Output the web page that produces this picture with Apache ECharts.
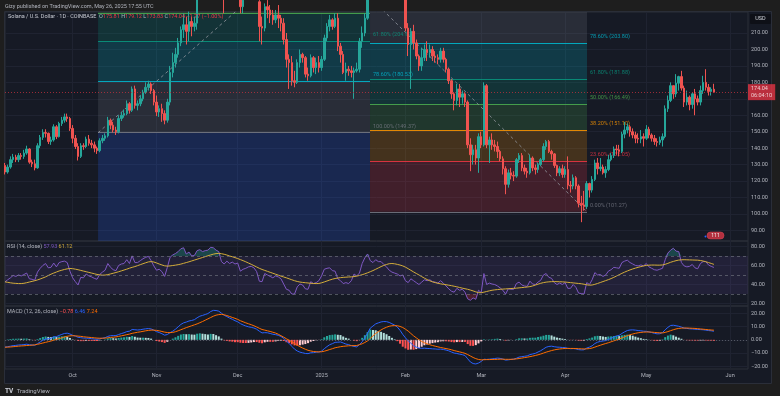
<!DOCTYPE html>
<html><head><meta charset="utf-8">
<script src="https://cdn.jsdelivr.net/npm/echarts@6/dist/echarts.min.js"></script>
<style>html,body{margin:0;padding:0;background:#1e1e1e;}#c{width:780px;height:396px;}</style>
</head><body><div id="c"></div>
<script>
// ---------------- DATA ----------------
const startDate = '2024-09-06';   // day index 0
const firstOpen = 129.5;
// daily closes, Sep 6 2024 -> May 26 2025
const close = [
 125.5,128.5,133,134.5,133,135.5,135,137,139.5,131.5,130.5,128,141.5,146.5,149.5,149,144,145,153,147,155,157,159,158,152,
 146,141,135,141.5,141,145.5,143,142,140,138.5,144.5,146,147.5,157,154,151,150,158,160,161,167,163,176,166,167,170,174,177,179,175,168,
 162,164,161,157,168,186,192,197,204,212,215,211,217,214,216,232,236,234,238,242,256,256,253,252,238,234,240,237,240,237,
 240,226,230,232,236,238,236,229,214,213,226,224,221,218,221,219,216,206,194,192,181,180,192,197,195,185,184,195,189,192,189,
 194,207,214,218,214,219,202,197,186,188,187,186,187,188,205,210,219,240,256,252,257,252,254,254,252,244,236,237,238,240,231,
 213,203,211,204,196,190,195,200,198,200,196,195,194,199,194,188,181,173,169,176,171,173,168,142,136,139,134,147,
 142,178,142,145,142,141,138,133.5,127.5,118,125,123.5,123,133,135.5,128,126,125,134,128,127,130,133,141,144,138,136.5,129.5,125,127.5,124,
 127,117.5,117,122,117,106.5,105.5,104.5,118.5,114.5,121,131,127.5,128.5,125,127,133,135.5,139.5,139,138,148.5,151,153,150,148,146,145.5,147,146,
 151.5,148,146,144,143.5,145,147,164,169,178,173,179.5,183.5,176.5,168,171,166.5,173,170,168,175,180,177,174.5,175.81,174.04
];
const high = [
 131,130,135,136.5,136,137,137,139,141.5,140,133,133,143,148,151.5,151.5,149.5,147,154.5,154,156,159,161,161,159,
 154,148,143,143,143,147,148,145,144,141,146,148,149,159,158,156,153,160,162,163.5,169,168,177.5,178,169,172,175.5,180,181,180,176,
 172,166,167,163,170,190,198,201,207,214,222,220,223,220,220,235,240,242,241,246,262,264,260,260,256,242,244,243,244,243,
 244,242,234,238,243,242,240,238,230,220,228,230,227,224,224,227,221,219,210,197,196,187,194,200,198,196,189,197,196,195,196,
 196,209,216,221,219,222,222,204,199,192,190,190,189,192,207,214,222,248,295,270,262,261,258,260,259,254,246,242,242,244,243,
 233,216,213,215,206,197,201,203,205,203,202,199,197,201,201,195,189,182,174,179,179,175,174,169,146,142,142,149,
 150,180,179,147,149,145,144,139,135,129,127,128,126,134,137,137,130,128,136,135,130,131,134,143,145,145,139,137,130,129,130,
 129,135,120,124,123,118,111,114,120,119,123,133,134,134,130,129,136,137,141,142,142,150,156,155,154,152,150,149,151,149,
 154,153,149,148,146,147,149,166,172,180,178,185,184,187,178,175,172,174,176,172,178,184,188,179,177,179.12
];
const low = [
 124,124.5,127.5,131,131.5,131.5,133,133.5,136,130.5,128.5,126.5,127.5,140,145,146.5,142.5,142,144,145.5,146.5,153.5,155.5,156,150.5,
 143,139.5,132.5,134,139,140,141.5,140,137.5,136.5,137.5,143,144.5,146.5,151.5,149.5,148,149,156.5,158.5,160,161,162,164,163,165.5,168.5,173,175,173,166,
 159.5,159,156,154.5,155.5,166,183,189,195,202,207,203,205,208,211,212,229,228,230,234,238,248,248,247,236,222,230,233,234,233,
 234,222,222,228,229,232,232,226,205,203,211,219,216,215,216,213,211,203,189,176,178,177,179,189,192,183,181,183,186,185,186,
 187,193,205,211,212,213,199,192,185,181,184,183,170,186,186,201,208,218,233,235,243,248,245,248,249,241,224,232,233,234,229,
 211,196,176,200,194,187,187,193,193,195,193,192,191,192,192,186,179,170,163,166,165,167,165,140,126,130,130,125,
 140,141,140,131,139,138,134,132,124,112,116,121,120,122,131,126,124,122,124,126,124,125,129,132,139,137,133,128,123,123,122,
 122,115,113,115,115,104,95,102,103,110,113,120,124,126,124,122,126,132,134,136,135,137,146,149,147,146,143,143,143,141,
 145,146,144,142,141,142,141,146,162,168,170,171,175,175,165,166,163,164,160,166,166,173,175,172,172,173.83
];
const rsi = [
 42.8,45,47,49.5,48.5,50,49,50.5,52,46,45.5,44.5,53,57,60,62,57.5,58,62.5,58.5,63,64,64.5,63,54,
 47,43,39.5,47.5,47,51,49,48,46.5,45.5,50.5,53,55,62,58,55.5,54.5,60,61.5,62,66,62,70,63,63,65,67,68.5,69.5,65,59.5,
 55,56,53.5,48.5,58,68.5,71,72.5,74.5,77.5,78.5,72,74,70,70.5,75.5,76.5,74.5,75.5,76,79,78.5,76,74.5,64,61.5,64.5,62,63.5,61.5,
 62.5,54,56,57,58.5,59,57.5,53.5,43.5,43,51.5,50,48.5,47,49,48,46,40.5,35,34,30,30,37.5,40.5,39.5,35.5,35,43,41,42,44,
 49,56,57,57.5,54.5,54,46,44,41,42,41,44,51,49,52,62,68,72,65,63,66,64,64,61,58.5,55,53,52,51,49,50,
 44,42,46,44,42,40,42.5,45,44,45,43,42.5,41.5,44,41.5,38.5,35.5,33,32,36,34,35,32,25,23.5,26,24.5,34,
 31.5,51.5,40,41.5,40.5,40,38.5,36.5,34,30,35.5,35,35,41,42.5,39.5,38.5,38,43.5,40.5,40,42.5,44.5,50,51.5,47.5,46.5,42,40,41.5,40,
 42,36,36,40,37,31,30.5,30,42,40,45,52.5,50,50.5,48.5,50,54,55.5,58,57.5,57,63,64.5,65.5,63,61.5,60,59.5,60.5,59.5,
 62,58.5,57,55.5,55,56,57,66,73,76,78,75,74.5,63,59.5,58.5,59,61,57.5,56.5,62,64,64,60.5,59,57.93
];
const rsiMa = [
 42.8,42.3,41.8,41.4,41.2,41,41,41.3,41.9,42.6,43.3,44,44.8,45.8,46.9,48,49.5,50.8,52,53.1,54.2,55,55.8,56.4,56.8,
 56.6,56.1,55.5,54.8,54.1,53.4,52.7,52,51.3,50.6,50.1,49.8,49.9,50.4,51.1,51.8,52.6,53.4,54.3,55.2,56.1,57.1,58,58.8,59.8,60.8,61.8,62.8,63.7,64,63.6,
 62.6,61.5,60.5,59.6,59.3,59.5,59.9,60.3,60.8,61.4,62.2,63,63.8,64.7,65.6,66.5,67.4,68.3,69.2,70.1,71,71.8,72.4,72.6,72.3,71.7,70.9,69.9,69.1,68.2,
 67.2,66.1,65,63.8,62.5,61.2,59.8,58.4,57,55.8,54.8,53.8,52.8,51.8,50.8,49.8,48.8,47.9,47,46,45,44,43.2,42.6,42.2,41.9,41.6,41.3,41.1,41,41.1,
 41.8,42.7,43.7,44.7,45.6,46.3,46.8,47.2,47.5,47.7,47.9,48,48.3,48.8,49.5,50.3,51.2,52.3,53.4,54.6,56,57.4,58.8,60,61,61.8,62,61.7,61.1,60.4,59.5,
 58.2,56.6,54.9,53.2,51.6,50,48.3,46.7,45.2,43.9,42.8,42,41.3,40.7,40.2,39.8,39.3,38.8,38.2,37.6,36.9,36.2,35.6,35,34.2,33.3,32.3,31.5,
 31.4,32,32.7,33.4,34,34.4,34.7,35,35.2,35.4,35.6,35.8,36,36.2,36.5,36.8,37.1,37.4,37.8,38.5,39.4,40.4,41.3,42,42.5,42.8,43,43.1,43,42.9,42.8,
 42.6,42.3,42,41.7,41.4,41.1,40.8,40.3,39.7,39.3,39.5,40.2,41.1,42.1,43.1,44.1,45.1,46.2,47.5,48.9,50.3,51.7,53,54.2,55.3,56.3,57.2,58,58.8,59.5,
 60,60.3,60.4,60.4,60.3,60.3,60.5,61.2,62.2,63.3,64.2,65,65.6,65.9,66,65.9,65.8,65.7,65.6,65.5,65.2,64.6,63.9,63,62.1,61.12
];
const macd = [
 -5.5,-5.2,-4.8,-4.4,-4.2,-3.9,-3.8,-3.6,-3.3,-3.7,-3.9,-4.1,-2.9,-1.6,-0.3,0.6,0.8,1.1,2.2,2.4,3.3,4.1,4.8,5,4.4,
 3.4,2.8,1.9,1.6,1.3,1.3,1.1,0.9,0.6,0.4,0.8,1.2,1.6,2.6,3.1,3.2,3.2,4,4.7,5.3,6.2,6.5,7.8,7.6,7.4,7.6,8,8.3,8.5,8.2,7.3,
 6.2,5.5,4.6,3.5,4,5.4,6.5,8,9.8,11.6,12.8,13.4,14.2,14.6,15.2,16.6,17.8,18.4,19.1,19.8,21.3,22.2,22.1,21.6,20.1,18.5,17.5,16.4,15.5,14.4,
 13.6,12.2,11.2,10.4,9.8,9.4,8.9,8,6.5,5.2,5.4,5.3,4.8,4.2,3.9,3.4,2.5,1.1,-1,-2.7,-4.9,-7,-8.4,-9.3,-9.8,-10.3,-10.4,-9.8,-9.7,-9.3,-9.2,
 -8.5,-6.7,-5.1,-3.7,-2.9,-1.9,-1.8,-1.6,-2.4,-3.2,-3.6,-4.4,-5,-5.3,-3.7,-1.5,1.5,5,8.8,10.4,12,12.8,13.5,13.8,13.7,13.1,12.1,11.1,9.6,7.2,4.1,
 1.5,-0.9,-2.5,-4.5,-5.5,-6.2,-6.4,-6.3,-6.5,-6.6,-6.8,-6.9,-7.1,-7,-7.3,-7.7,-8.3,-9.2,-10,-10.3,-10.8,-11.2,-11.8,-14.3,-16.7,-17.9,-18.2,-17.5,
 -16.3,-14.6,-14.8,-14.6,-14.4,-14.1,-13.8,-14,-14.5,-15.3,-15.1,-14.8,-14.6,-13.9,-13,-12.7,-12.4,-12.1,-11.2,-10.7,-10.2,-9.2,-8.2,-6.9,-5.6,-5,-4.8,-5.2,-5.5,-5.6,-5.8,
 -5.9,-6.4,-6.7,-6.6,-6.8,-7.4,-7.6,-7.5,-6.2,-5.5,-4.5,-2.8,-1.8,-1.2,-0.9,-0.6,0.3,1.1,2.1,2.9,3.4,4.8,6,7,7.4,7.5,7.3,7,6.8,6.5,
 6.4,6,5.5,4.9,4.5,4.6,5.5,7.6,9.4,10.8,11,10.6,10.2,9.6,8.8,8.6,8.3,8.2,8,7.8,7.7,7.6,7.3,7,6.8,6.46
];
const signal = [
 -5.6,-5.5,-5.4,-5.2,-5,-4.8,-4.6,-4.5,-4.3,-4.2,-4,-3.8,-3.4,-2.9,-2.4,-1.9,-1.4,-0.9,-0.3,0.3,0.9,1.5,2.2,2.7,3,
 3.1,3,2.8,2.6,2.3,2.1,1.9,1.7,1.5,1.3,1.2,1.2,1.3,1.5,1.8,2,2.2,2.6,3,3.4,3.9,4.3,4.9,5.3,5.7,6,6.4,6.8,7.1,7.3,7.3,
 7.1,6.8,6.3,5.8,5.5,5.4,5.6,6.1,6.8,7.6,8.4,9.2,9.9,10.6,11.3,12,12.9,13.8,14.8,15.8,16.8,17.8,18.6,19,19.2,18.9,18.3,17.6,16.9,16.2,
 15.4,14.4,13.6,12.8,12.1,11.4,10.6,9.7,8.7,7.8,7.3,6.8,6.3,5.7,5.1,4.2,3.1,2,0.8,-0.3,-1.5,-2.8,-4,-5.2,-6.2,-7.1,-7.9,-8.4,-8.8,-9,-9.1,
 -9,-8.6,-8,-7.3,-6.7,-6,-5.6,-5.2,-4.9,-4.7,-4.5,-4.4,-4.4,-4.3,-3.6,-3,-2,-0.8,1.1,3,4.8,6.2,7.5,8.6,9.5,10.2,10.6,10.7,10.6,10.1,9.3,
 8,6.6,4.8,3,1.5,0,-1.2,-2.2,-3,-3.7,-4.3,-4.8,-5.3,-5.8,-6.2,-6.6,-7,-7.5,-8.1,-8.6,-9.1,-9.6,-10.2,-11.1,-12.2,-13.3,-14.2,-14.8,
 -15.1,-15,-14.9,-14.9,-14.8,-14.8,-14.7,-14.6,-14.6,-14.7,-14.7,-14.7,-14.6,-14.4,-14.1,-13.8,-13.4,-13.1,-12.7,-12.3,-11.8,-11.3,-10.7,-10,-9.3,-8.7,-8.1,-7.6,-7.2,-6.9,-6.7,
 -6.5,-6.5,-6.5,-6.5,-6.6,-6.7,-6.8,-6.9,-6.8,-6.6,-6.2,-5.5,-4.8,-4.1,-3.4,-2.8,-2.2,-1.5,-0.8,-0.1,0.6,1.4,2.3,3.1,3.8,4.4,4.9,5.3,5.6,5.8,
 5.9,5.9,5.8,5.6,5.4,5.3,5.2,5.6,6.2,6.9,7.6,8.2,8.6,8.8,8.9,8.9,8.8,8.7,8.6,8.4,8.2,8,7.8,7.6,7.4,7.24
];
// axis ticks
const monthTickDates = ['2024-10-01','2024-11-01','2024-12-01','2025-01-01','2025-02-01','2025-03-01','2025-04-01','2025-05-01','2025-06-01'];
const monthTickLabels = ['Oct','Nov','Dec','2025','Feb','Mar','Apr','May','Jun'];
const priceGridTicks = [90,100,110,120,130,140,150,160,170,180,190,200,210];
const priceLabelTicks = [90,100,110,120,130,140,150,160,180,190,200,210];
const rsiTicks = [20,40,60,80];
const rsiBandLevels = [30,50,70];
const macdTicks = [-20,-10,0,10,20];
// Fibonacci retracement drawings (anchor day index, prices at 0% and 100%)
const fibLevels = [0,0.236,0.382,0.5,0.618,0.786,1,1.618];
const fibLeftX = [34.4,134.9];
const fibLeftPrices = [294.98,149.37];
const fibMidX = [134.9,215.1];
const fibMidPrices = [101.27,231.71];
const priceLabelText = '06:04:10';
const headerText = 'Gizy published on TradingView.com, May 26, 2025 17:55 UTC';
const symbolText = 'Solana / U.S. Dollar · 1D · COINBASE';
const changeText = '−1.77 (−1.00%)';

// ---------------- CHART ----------------
const N = close.length;
[high, low, rsi, rsiMa, macd, signal].forEach((a, k) => { if (a.length !== N) throw new Error('length mismatch ' + k + ': ' + a.length + ' vs ' + N); });

const FONT = 'Roboto, "Liberation Sans", sans-serif';
const AX = '#b2b5be';
const GRIDC = '#1f2331';
const X_MAX = 274.6;
const PRICE_RANGE = [83.56, 222.77];
const RSI_RANGE = [17.5, 85.6];
const MACD_RANGE = [-22.0, 25.5];
const UP = '#26a69a', DOWN = '#ef5350';
const fibColors = ['#787b86','#f23645','#ff9800','#4caf50','#089981','#00bcd4','#787b86','#2962ff'];

const dayIdx = d => Math.round((Date.parse(d) - Date.parse(startDate)) / 86400000);
const monthIdx = monthTickDates.map(dayIdx);
const open = close.map((c, i) => i === 0 ? firstOpen : close[i - 1]);
const candleData = close.map((c, i) => [i, open[i], c, low[i], high[i]]);
const hist = macd.map((m, i) => +(m - signal[i]).toFixed(2));
const histData = hist.map((h, i) => {
  const prev = i > 0 ? hist[i - 1] : h;
  const col = h >= 0 ? (h >= prev ? '#26a69a' : '#b2dfdb') : (h <= prev ? '#ff5252' : '#ffcdd2');
  return {value: [i, h], itemStyle: {color: col}};
});
const minus = v => (v < 0 ? '−' : '') + Math.abs(v).toFixed(2);
// overbought / oversold fills of the RSI, clipped at the 70 / 30 lines
const obLine = rsi.map((v, i) => [i, Math.max(v, rsiBandLevels[2])]);
const osLine = rsi.map((v, i) => [i, Math.min(v, rsiBandLevels[0])]);

function hexA(hex, a) {
  const n = parseInt(hex.slice(1), 16);
  return `rgba(${(n >> 16) & 255},${(n >> 8) & 255},${n & 255},${a})`;
}
const fibAreas = [], fibLines = [], fibLabels = [];
function addFib(xr, pr) {
  const price = l => pr[0] + (pr[1] - pr[0]) * l;
  for (let k = 1; k < fibLevels.length; k++) {
    const a = price(fibLevels[k - 1]), b = price(fibLevels[k]);
    const lo = Math.max(Math.min(a, b), PRICE_RANGE[0]);
    const hi = Math.min(Math.max(a, b), PRICE_RANGE[1]);
    if (hi > lo) fibAreas.push([{xAxis: xr[0], yAxis: lo, itemStyle: {color: hexA(fibColors[k], 0.2)}}, {xAxis: xr[1], yAxis: hi}]);
  }
  fibLevels.forEach((l, k) => {
    const p = price(l);
    if (p >= PRICE_RANGE[0] && p <= PRICE_RANGE[1]) {
      fibLines.push([{coord: [xr[0], p], lineStyle: {color: fibColors[k]}}, {coord: [xr[1], p]}]);
      if (p <= PRICE_RANGE[1] - 4) {
        fibLabels.push({value: [xr[1], p], name: (l * 100).toFixed(2) + '% (' + p.toFixed(2) + ')', label: {color: fibColors[k]}});
      }
    }
  });
}
addFib(fibLeftX, fibLeftPrices);
addFib(fibMidX, fibMidPrices);

const grids = [
  {left: 5, right: 32, top: 12, height: 229},
  {left: 5, right: 32, top: 241, height: 65},
  {left: 5, right: 32, top: 306, height: 63}
].map(g => Object.assign(g, {show: true, borderColor: '#2a2e39', borderWidth: 1, backgroundColor: 'transparent'}));

const xAxes = [0, 1, 2].map(k => ({
  type: 'value', gridIndex: k, min: 0, max: X_MAX,
  axisLine: {show: false},
  axisTick: {show: false, customValues: monthIdx},
  axisLabel: {show: k === 2, customValues: monthIdx, color: AX, fontSize: 5.5, fontFamily: FONT, margin: 4,
    formatter: v => monthTickLabels[monthIdx.indexOf(Math.round(v))] || ''},
  splitLine: {show: true, lineStyle: {color: GRIDC, width: 1}}
}));
function yAx(k, range, grid, labels, fmt) {
  return {
    type: 'value', gridIndex: k, position: 'right', min: range[0], max: range[1], scale: true,
    axisLine: {show: false},
    axisTick: {show: false, customValues: grid},
    axisLabel: {customValues: labels, color: AX, fontSize: 5.5, fontFamily: FONT, margin: 3, formatter: fmt},
    splitLine: {show: true, lineStyle: {color: GRIDC, width: 1}}
  };
}
const yAxes = [
  yAx(0, PRICE_RANGE, priceGridTicks, priceLabelTicks, v => v.toFixed(2)),
  yAx(1, RSI_RANGE, rsiTicks, rsiTicks, v => v.toFixed(2)),
  yAx(2, MACD_RANGE, macdTicks, macdTicks, v => minus(v))
];

const series = [
  { // fibonacci bands and level lines
    type: 'line', xAxisIndex: 0, yAxisIndex: 0, data: [], silent: true, z: 1,
    markArea: {silent: true, z: 1, data: fibAreas, label: {show: false}},
    markLine: {silent: true, z: 1, symbol: ['none', 'none'], label: {show: false}, lineStyle: {width: 1, type: 'solid', opacity: 0.85}, data: fibLines}
  },
  { type: 'line', xAxisIndex: 0, yAxisIndex: 0, silent: true, z: 2, symbol: 'none',
    data: [[fibLeftX[0], fibLeftPrices[1]], [fibLeftX[1], fibLeftPrices[0]]],
    lineStyle: {color: '#9598a1', width: 1, type: [3, 3], opacity: 0.8} },
  { type: 'line', xAxisIndex: 0, yAxisIndex: 0, silent: true, z: 2, symbol: 'none',
    data: [[fibMidX[0], fibMidPrices[1]], [fibMidX[1], fibMidPrices[0]]],
    lineStyle: {color: '#9598a1', width: 1, type: [3, 3], opacity: 0.8} },
  { type: 'scatter', xAxisIndex: 0, yAxisIndex: 0, silent: true, z: 2, symbolSize: 0,
    data: fibLabels,
    label: {show: true, position: 'right', distance: 3, offset: [0, -6.5], fontSize: 5.5, fontFamily: FONT, formatter: p => p.name} },
  { type: 'candlestick', xAxisIndex: 0, yAxisIndex: 0, z: 3, silent: true, barWidth: 2,
    encode: {x: 0, y: [1, 2, 3, 4]},
    data: candleData,
    itemStyle: {color: UP, color0: DOWN, borderColor: UP, borderColor0: DOWN, borderWidth: 1},
    markLine: {silent: true, z: 4, symbol: ['none', 'none'],
      data: [{yAxis: close[N - 1]}],
      lineStyle: {color: '#c4313d', type: [1, 2], width: 1, opacity: 0.75},
      label: {show: true, position: 'end', distance: 0, formatter: close[N - 1].toFixed(2) + '\n' + priceLabelText,
        backgroundColor: '#f23645', color: '#ffffff', fontSize: 5.5, lineHeight: 7, fontFamily: FONT, padding: [1, 3, 1, 3], align: 'left'}}
  },
  { // RSI band
    type: 'line', xAxisIndex: 1, yAxisIndex: 1, data: [], silent: true, z: 1,
    markArea: {silent: true, data: [[{yAxis: rsiBandLevels[0], itemStyle: {color: 'rgba(126,87,194,0.12)'}}, {yAxis: rsiBandLevels[2]}]]},
    markLine: {silent: true, symbol: ['none', 'none'], label: {show: false},
      lineStyle: {color: '#787b86', type: [3, 3], width: 1, opacity: 0.6},
      data: rsiBandLevels.map(v => ({yAxis: v}))}
  },
  { type: 'line', xAxisIndex: 1, yAxisIndex: 1, silent: true, z: 2, symbol: 'none',
    data: obLine, lineStyle: {width: 0, opacity: 0}, areaStyle: {color: 'rgba(38,166,154,0.45)', origin: rsiBandLevels[2]} },
  { type: 'line', xAxisIndex: 1, yAxisIndex: 1, silent: true, z: 2, symbol: 'none',
    data: osLine, lineStyle: {width: 0, opacity: 0}, areaStyle: {color: 'rgba(242,54,69,0.35)', origin: rsiBandLevels[0]} },
  { type: 'line', xAxisIndex: 1, yAxisIndex: 1, silent: true, z: 3, symbol: 'none',
    data: rsi.map((v, i) => [i, v]), lineStyle: {color: '#7e57c2', width: 1} },
  { type: 'line', xAxisIndex: 1, yAxisIndex: 1, silent: true, z: 3, symbol: 'none',
    data: rsiMa.map((v, i) => [i, v]), lineStyle: {color: '#d4ad3a', width: 1} },
  { type: 'bar', xAxisIndex: 2, yAxisIndex: 2, silent: true, z: 2, barWidth: 2,
    data: histData,
    markLine: {silent: true, symbol: ['none', 'none'], label: {show: false},
      lineStyle: {color: '#787b86', type: [1, 2], width: 1, opacity: 0.6}, data: [{yAxis: 0}]} },
  { type: 'line', xAxisIndex: 2, yAxisIndex: 2, silent: true, z: 3, symbol: 'none',
    data: macd.map((v, i) => [i, v]), lineStyle: {color: '#2962ff', width: 1} },
  { type: 'line', xAxisIndex: 2, yAxisIndex: 2, silent: true, z: 3, symbol: 'none',
    data: signal.map((v, i) => [i, v]), lineStyle: {color: '#ff6d00', width: 1} }
];

const txt = (t, c) => ({fill: c, fontSize: 5.5, fontFamily: FONT});
const graphic = [
  {type: 'rect', z: -10, shape: {x: 4.5, y: 11.5, width: 767, height: 372}, style: {fill: '#161a25', stroke: '#2a2e39', lineWidth: 1}, silent: true},
  {type: 'text', z: 10, left: 5, top: 3.5, silent: true, style: {text: headerText, fill: '#b2b5be', fontSize: 5.5, fontFamily: FONT}},
  {type: 'text', z: 10, left: 8, top: 14, silent: true, style: {
    text: '{t|' + symbolText + '}  {k|O}{v|' + open[N-1].toFixed(2) + '} {k|H}{v|' + high[N-1].toFixed(2) + '} {k|L}{v|' + low[N-1].toFixed(2) + '} {k|C}{v|' + close[N-1].toFixed(2) + '} {v|' + changeText + '}',
    rich: {t: txt('', '#c8cbd3'), k: txt('', '#b2b5be'), v: txt('', '#f23645')}, fontSize: 5.5, fontFamily: FONT}},
  {type: 'text', z: 10, left: 7, top: 243.5, silent: true, style: {
    text: '{t|RSI (14, close)} {a|' + rsi[N-1].toFixed(2) + '} {b|' + rsiMa[N-1].toFixed(2) + '}',
    rich: {t: txt('', '#b2b5be'), a: txt('', '#7e57c2'), b: txt('', '#d4ad3a')}, fontSize: 5.5, fontFamily: FONT}},
  {type: 'text', z: 10, left: 7, top: 308.5, silent: true, style: {
    text: '{t|MACD (12, 26, close)} {h|' + minus(hist[N-1]) + '} {m|' + minus(macd[N-1]) + '} {s|' + minus(signal[N-1]) + '}',
    rich: {t: txt('', '#b2b5be'), h: txt('', '#ff5252'), m: txt('', '#2962ff'), s: txt('', '#ff6d00')}, fontSize: 5.5, fontFamily: FONT}},
  {type: 'rect', z: 10, shape: {x: 750, y: 14, width: 21, height: 10, r: 1}, style: {fill: '#0e1017'}, silent: true},
  {type: 'text', z: 11, x: 760.5, y: 19, silent: true, style: {text: 'USD', fill: '#d1d4dc', fontSize: 5.5, fontFamily: FONT, align: 'center', verticalAlign: 'middle'}},
  {type: 'rect', z: 10, shape: {x: 707, y: 232, width: 17, height: 7, r: 3.5}, style: {fill: '#b3303f', stroke: '#e04a5a', lineWidth: 0.5}, silent: true},
  {type: 'circle', z: 11, shape: {cx: 705.5, cy: 236.5, r: 1}, style: {fill: '#2962ff'}, silent: true},
  {type: 'text', z: 11, x: 715.5, y: 235.5, silent: true, style: {text: '111', fill: '#f0f0f0', fontSize: 5, fontFamily: FONT, align: 'center', verticalAlign: 'middle'}},
  {type: 'text', z: 10, left: 5, top: 385.5, silent: true, style: {
    text: '{l|TV} {t|TradingView}', rich: {l: {fill: '#d1d4dc', fontSize: 6.5, fontWeight: 'bold', fontFamily: FONT}, t: {fill: '#b2b5be', fontSize: 6, fontFamily: FONT}}}}
];

const chart = echarts.init(document.getElementById('c'), null, {renderer: 'canvas', width: 780, height: 396});
chart.setOption({
  backgroundColor: '#1e1e1e',
  animation: false,
  textStyle: {fontFamily: FONT},
  grid: grids,
  xAxis: xAxes,
  yAxis: yAxes,
  series: series,
  graphic: graphic
});
</script></body></html>
